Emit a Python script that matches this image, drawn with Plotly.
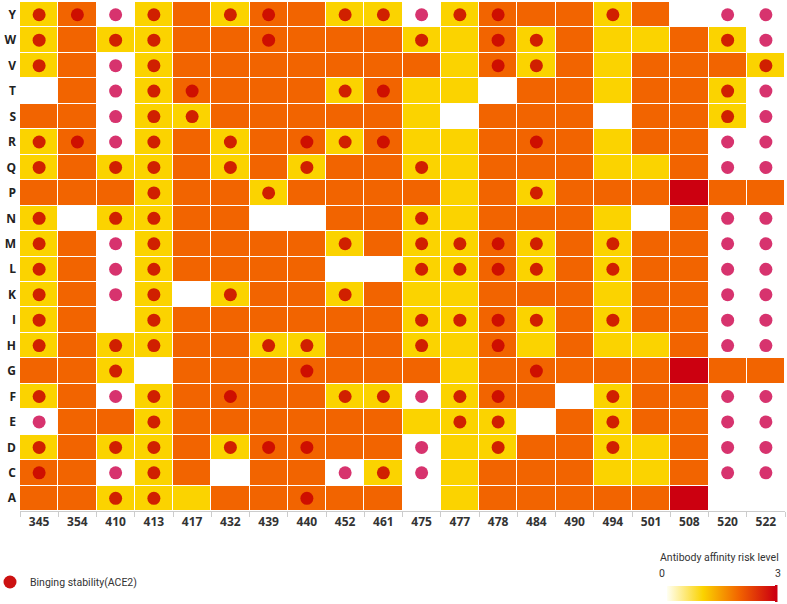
import plotly.graph_objects as go

N = None

positions = ["345", "354", "410", "413", "417", "432", "439", "440", "452", "461",
             "475", "477", "478", "484", "490", "494", "501", "508", "520", "522"]
residues = ["Y", "W", "V", "T", "S", "R", "Q", "P", "N", "M",
            "L", "K", "I", "H", "G", "F", "E", "D", "C", "A"]

# Antibody affinity risk level (1 = low, 2 = medium, 3 = high, None = no data)
risk = [
    [1, 2, N, 1, 2, 1, 2, 2, 1, 1, N, 1, 2, 2, 2, 1, 2, N, N, N],  # Y
    [1, 2, 1, 1, 2, 2, 2, 2, 2, 2, 1, 1, 2, 1, 2, 1, 1, 2, 1, N],  # W
    [1, 2, N, 1, 2, 2, 2, 2, 2, 2, 2, 1, 2, 1, 2, 1, 2, 2, 2, 1],  # V
    [N, 2, N, 1, 2, 2, 2, 2, 1, 2, 1, 1, N, 2, 2, 1, 2, 2, 1, N],  # T
    [2, 2, N, 1, 1, 2, 2, 2, 2, 2, 1, N, 2, 2, 2, N, 2, 2, 1, N],  # S
    [1, 2, N, 1, 2, 1, 2, 2, 1, 2, 1, 1, 2, 2, 2, 1, 2, 2, N, N],  # R
    [1, 2, 1, 1, 2, 1, 2, 1, 2, 2, 1, 1, 2, 2, 2, 1, 1, 2, N, N],  # Q
    [2, 2, 2, 1, 2, 2, 1, 2, 2, 2, 2, 1, 2, 1, 2, 2, 2, 3, 2, 2],  # P
    [1, N, 1, 1, 2, 2, N, N, 2, 2, 1, 1, 2, 2, 2, 1, N, 2, N, N],  # N
    [1, 2, N, 1, 2, 2, 2, 2, 1, 2, 1, 1, 2, 1, 2, 1, 2, 2, N, N],  # M
    [1, 2, N, 1, 2, 2, 2, 2, N, N, 1, 1, 2, 1, 2, 1, 2, 2, N, N],  # L
    [1, 2, N, 1, N, 1, 2, 2, 1, 2, 1, 1, 2, 2, 2, 1, 2, 2, N, N],  # K
    [1, 2, N, 1, 2, 2, 2, 2, 2, 2, 1, 1, 2, 1, 2, 1, 2, 2, N, N],  # I
    [1, 2, 1, 1, 2, 2, 1, 1, 2, 2, 1, 1, 2, 1, 2, 1, 1, 2, N, N],  # H
    [2, 2, 1, N, 2, 2, 2, 2, 2, 2, 2, 1, 2, 2, 2, 2, 2, 3, 2, 2],  # G
    [1, 2, N, 1, 2, 2, 2, 2, 1, 1, N, 1, 2, 2, N, 1, 2, 2, N, N],  # F
    [N, 2, 2, 1, 2, 2, 2, 2, 2, 2, 1, 1, 1, N, 2, 1, 2, 2, N, N],  # E
    [1, 2, 1, 1, 2, 1, 2, 2, 2, 2, N, 1, 1, 2, 2, 1, 1, 2, N, N],  # D
    [2, 2, N, 1, 2, N, 2, 2, N, 1, N, 1, 2, 2, 2, 1, 1, 2, N, N],  # C
    [2, 2, 1, 1, 1, 2, 2, 2, 2, 2, N, 1, 2, 2, 2, 2, 2, 3, N, N],  # A
]

# Binding stability (ACE2): 1 = marked with a dot
binding = [
    [1, 1, 1, 1, 0, 1, 1, 0, 1, 1, 1, 1, 1, 0, 0, 1, 0, 0, 1, 1],  # Y
    [1, 0, 1, 1, 0, 0, 1, 0, 0, 0, 1, 0, 1, 1, 0, 0, 0, 0, 1, 1],  # W
    [1, 0, 1, 1, 0, 0, 0, 0, 0, 0, 0, 0, 1, 1, 0, 0, 0, 0, 0, 1],  # V
    [0, 0, 1, 1, 1, 0, 0, 0, 1, 1, 0, 0, 0, 0, 0, 0, 0, 0, 1, 1],  # T
    [0, 0, 1, 1, 1, 0, 0, 0, 0, 0, 0, 0, 0, 0, 0, 0, 0, 0, 1, 1],  # S
    [1, 1, 1, 1, 0, 1, 0, 1, 1, 1, 0, 0, 0, 1, 0, 0, 0, 0, 1, 1],  # R
    [1, 0, 1, 1, 0, 1, 0, 1, 0, 0, 1, 0, 0, 0, 0, 0, 0, 0, 1, 1],  # Q
    [0, 0, 0, 1, 0, 0, 1, 0, 0, 0, 0, 0, 0, 1, 0, 0, 0, 0, 0, 0],  # P
    [1, 0, 1, 1, 0, 0, 0, 0, 0, 0, 1, 0, 0, 0, 0, 0, 0, 0, 1, 1],  # N
    [1, 0, 1, 1, 0, 0, 0, 0, 1, 0, 1, 1, 1, 1, 0, 1, 0, 0, 1, 1],  # M
    [1, 0, 1, 1, 0, 0, 0, 0, 0, 0, 1, 1, 1, 1, 0, 1, 0, 0, 1, 1],  # L
    [1, 0, 1, 1, 0, 1, 0, 0, 1, 0, 0, 0, 0, 0, 0, 0, 0, 0, 1, 1],  # K
    [1, 0, 0, 1, 0, 0, 0, 0, 0, 0, 1, 1, 1, 1, 0, 1, 0, 0, 1, 1],  # I
    [1, 0, 1, 1, 0, 0, 1, 1, 0, 0, 1, 0, 1, 0, 0, 0, 0, 0, 1, 1],  # H
    [0, 0, 1, 0, 0, 0, 0, 1, 0, 0, 0, 0, 0, 1, 0, 0, 0, 0, 0, 0],  # G
    [1, 0, 1, 1, 0, 1, 0, 0, 1, 1, 1, 1, 1, 0, 0, 1, 0, 0, 1, 1],  # F
    [1, 0, 0, 1, 0, 0, 0, 0, 0, 0, 0, 1, 1, 0, 0, 1, 0, 0, 1, 1],  # E
    [1, 0, 1, 1, 0, 1, 1, 1, 0, 0, 1, 0, 1, 0, 0, 1, 0, 0, 1, 1],  # D
    [1, 0, 1, 1, 0, 0, 0, 0, 1, 1, 1, 0, 0, 0, 0, 0, 0, 0, 1, 1],  # C
    [0, 0, 1, 1, 0, 0, 0, 1, 0, 0, 0, 0, 0, 0, 0, 0, 0, 0, 0, 0],  # A
]

W, H = 787, 604
ML, MR, MT, MB = 20, 2, 2, 93
PW, PH = W - ML - MR, H - MT - MB


def px(xp):
    return (xp - ML) / PW


def py(yp):
    return (H - MB - yp) / PH


colorscale = [[0, "#FFFFF2"], [1 / 3, "#FBD300"], [2 / 3, "#F26400"], [1, "#CC0010"]]

fig = go.Figure()
fig.add_trace(go.Heatmap(
    x=positions, y=residues, z=risk, zmin=0, zmax=3,
    colorscale=colorscale, xgap=1, ygap=1, hoverongaps=False,
    colorbar=dict(
        orientation="h", x=px(721), xanchor="center", y=py(601), yanchor="bottom",
        len=108, lenmode="pixels", thickness=15, thicknessmode="pixels",
        xpad=0, ypad=0, outlinewidth=0, showticklabels=False, ticks="",
    ),
))

dx_on, dy_on, dx_off, dy_off = [], [], [], []
for i, r in enumerate(residues):
    for j, p in enumerate(positions):
        if binding[i][j]:
            if risk[i][j] is None:
                dx_off.append(p); dy_off.append(r)
            else:
                dx_on.append(p); dy_on.append(r)

fig.add_trace(go.Scatter(
    x=dx_on, y=dy_on, mode="markers", name="Binging stability(ACE2)",
    marker=dict(size=13, color="rgba(200,0,0,0.85)", line=dict(width=0)),
    showlegend=False,
))
fig.add_trace(go.Scatter(
    x=dx_off, y=dy_off, mode="markers", name="Binging stability(ACE2)",
    marker=dict(size=13, color="#D7336E", line=dict(width=0)),
    showlegend=False,
))
# legend entry
fig.add_trace(go.Scatter(
    x=[None], y=[None], mode="markers", name="Binging stability(ACE2)",
    marker=dict(size=13, color="#CC1111"), showlegend=True,
))

fig.update_xaxes(
    type="category", categoryorder="array", categoryarray=positions,
    range=[-0.5, len(positions) - 0.5], autorange=False,
    showgrid=False, zeroline=False, showline=True, linecolor="#CCCCCC", linewidth=1,
    ticks="outside", tickson="boundaries", ticklen=5, tickcolor="#CCCCCC",
    tickfont=dict(family="Open Sans", size=12, color="#333333", weight="bold"),
)
fig.update_yaxes(
    type="category", categoryorder="array", categoryarray=residues,
    range=[len(residues) - 0.5, -0.5], autorange=False,
    showgrid=False, zeroline=False, showline=False, ticks="", ticklabelstandoff=3,
    tickfont=dict(family="Open Sans", size=12, color="#222222", weight="bold"),
)

fig.add_annotation(text="Antibody affinity risk level", xref="paper", yref="paper",
                   x=px(781), y=py(557), xanchor="right", yanchor="middle", showarrow=False,
                   font=dict(family="Roboto", size=10.5, color="#333333"))
fig.add_annotation(text="0", xref="paper", yref="paper",
                   x=px(662), y=py(573), xanchor="center", yanchor="middle", showarrow=False,
                   font=dict(family="Roboto", size=10.5, color="#333333"))
fig.add_annotation(text="3", xref="paper", yref="paper",
                   x=px(778), y=py(573), xanchor="center", yanchor="middle", showarrow=False,
                   font=dict(family="Roboto", size=10.5, color="#333333"))
fig.add_shape(type="rect", xref="paper", yref="paper",
              x0=px(775), x1=px(777.5), y0=py(585), y1=py(602),
              fillcolor="#CC0010", line=dict(width=0))

fig.update_layout(
    width=W, height=H,
    margin=dict(l=ML, r=MR, t=MT, b=MB, autoexpand=False),
    paper_bgcolor="white", plot_bgcolor="white",
    showlegend=True,
    legend=dict(x=px(-10), y=py(582), xanchor="left", yanchor="middle",
                font=dict(family="Roboto", size=10.5, color="#333333"),
                bgcolor="rgba(0,0,0,0)"),
    font=dict(family="Open Sans"),
)

fig.write_html("out.html", config={"displayModeBar": False},
               post_script="document.body.style.margin='0';")
